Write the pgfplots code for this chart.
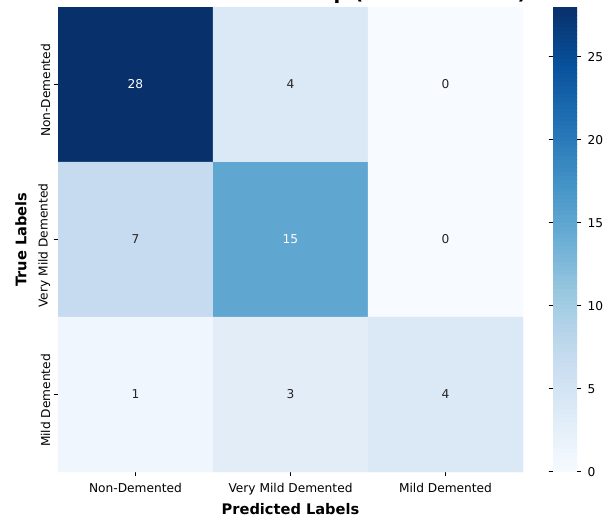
\documentclass[border=0pt]{standalone}
\usepackage{pgfplots}
\pgfplotsset{compat=1.18}
\usepackage{fontspec}
\setmainfont{DejaVu Sans}

% matplotlib "Blues" colormap
\pgfplotsset{
  colormap={Blues}{
    rgb255=(247,251,255) rgb255=(222,235,247) rgb255=(198,219,239)
    rgb255=(158,202,225) rgb255=(107,174,214) rgb255=(66,146,198)
    rgb255=(33,113,181)  rgb255=(8,81,156)    rgb255=(8,48,107)
  },
}
\newcommand{\tickfont}{\fontsize{12.2bp}{14bp}\selectfont}
\newcommand{\labelfont}{\fontsize{14.6bp}{17bp}\selectfont\bfseries}
\newcommand{\titlefont}{\fontsize{19.5bp}{23bp}\selectfont\bfseries}

\begin{document}
\begin{tikzpicture}
\begin{axis}[
  at={(58bp,45bp)}, anchor=south west,
  scale only axis, width=465bp, height=465bp,
  xmin=-0.5, xmax=2.5, ymin=-0.5, ymax=2.5,
  y dir=reverse,
  axis line style={draw=none},
  xtick={0,1,2}, ytick={0,1,2},
  xticklabels={Non-Demented, Very Mild Demented, Mild Demented},
  yticklabels={Non-Demented, Very Mild Demented, Mild Demented},
  xtick pos=bottom, ytick pos=left,
  tick align=outside,
  major tick length=4.3bp,
  tick style={black, line width=1bp},
  ticklabel style={font=\tickfont},
  xticklabel style={yshift=-3bp},
  yticklabel style={rotate=90, anchor=south, xshift=-6bp},
  xlabel={Predicted Labels}, ylabel={True Labels},
  xlabel style={font=\labelfont, yshift=-2bp},
  ylabel style={font=\labelfont, yshift=5bp},
  colormap name=Blues,
  point meta min=0, point meta max=28,
  colorbar sampled,
  colorbar style={
    at={(parent axis.north east)}, anchor=north west, xshift=21.5bp,
    scale only axis, width=24bp, height=465bp,
    xmin=0, xmax=1, enlargelimits=false,
    samples=120,
    axis line style={draw=none},
    ytick={0,5,...,25},
    tick align=outside,
    major tick length=4.3bp,
    tick style={black, line width=1bp},
    yticklabel style={font=\tickfont, inner sep=1bp, xshift=5bp},
    /pgf/number format/assume math mode=true,
  },
]
  % confusion matrix: rows = true label, columns = predicted label
  \addplot[matrix plot*, mesh/cols=3, point meta=explicit]
    table[meta=v] {
      x y v
      0 0 28
      1 0 4
      2 0 0
      0 1 7
      1 1 15
      2 1 0
      0 2 1
      1 2 3
      2 2 4
    };
  % cell counts on dark cells
  \addplot[draw=none, mark=none, nodes near coords, point meta=explicit symbolic,
    nodes near coords style={text=white, font=\tickfont, anchor=center}]
    table[meta=v] {
      x y v
      0 0 28
      1 1 15
    };
  % cell counts on light cells
  \addplot[draw=none, mark=none, nodes near coords, point meta=explicit symbolic,
    nodes near coords style={text=black!85, font=\tickfont, anchor=center}]
    table[meta=v] {
      x y v
      1 0 4
      2 0 0
      0 1 7
      2 1 0
      0 2 1
      1 2 3
      2 2 4
    };
\end{axis}
\node[anchor=base, font=\titlefont] at (290.5bp,517.3bp)
  {Confusion Matrix Heatmap (Validation Set)};
\pgfresetboundingbox
\useasboundingbox (0,0) rectangle (607bp,517bp);
\end{tikzpicture}
\end{document}
